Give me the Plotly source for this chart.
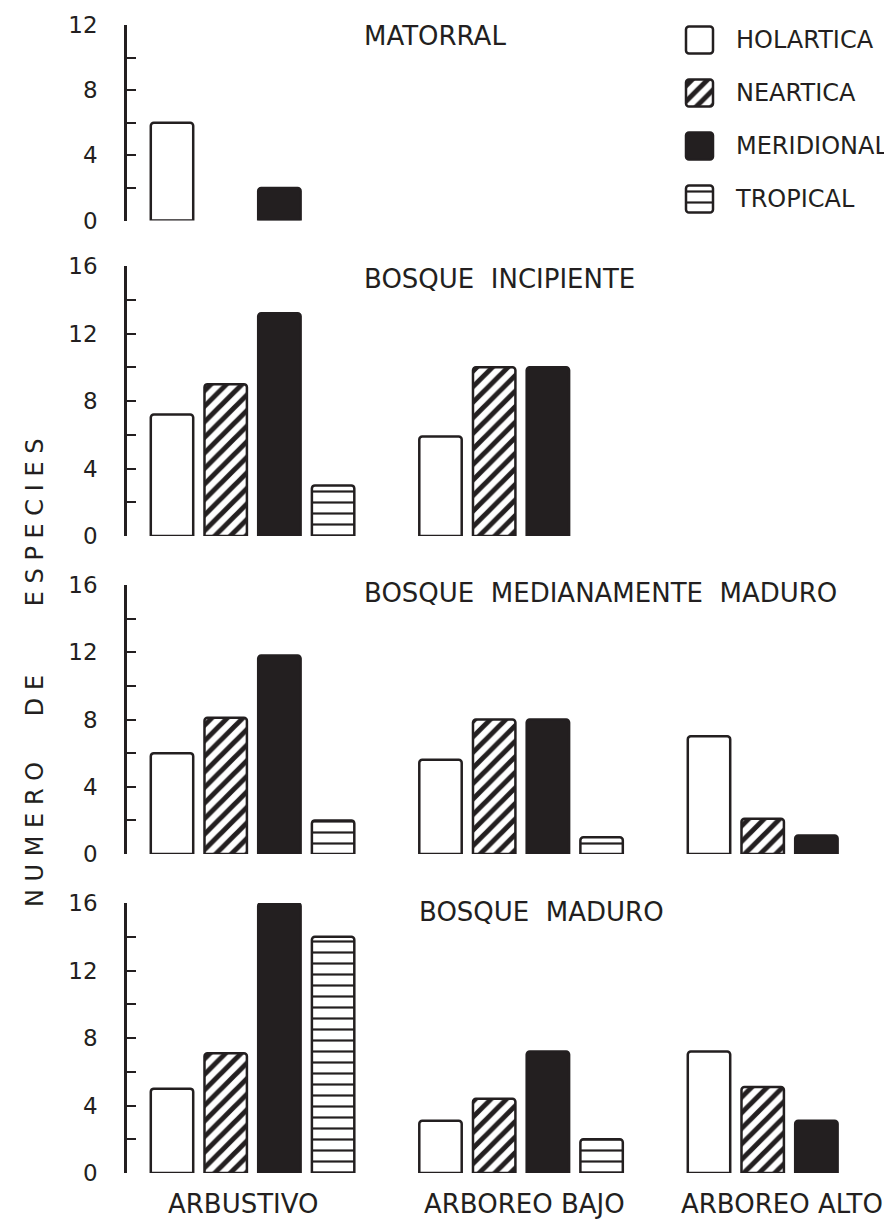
import plotly.graph_objects as go

# ---------------- data ----------------
categories = ["HOLARTICA", "NEARTICA", "MERIDIONAL", "TROPICAL"]
strata = ["ARBUSTIVO", "ARBOREO BAJO", "ARBOREO ALTO"]
panel_titles = ["MATORRAL", "BOSQUE\u00a0\u00a0INCIPIENTE",
                "BOSQUE\u00a0\u00a0MEDIANAMENTE\u00a0\u00a0MADURO", "BOSQUE\u00a0\u00a0MADURO"]

# values per stratum (ARBUSTIVO, ARBOREO BAJO, ARBOREO ALTO); None = no bar
matorral_holartica = [6, None, None]
matorral_neartica = [None, None, None]
matorral_meridional = [2, None, None]
matorral_tropical = [None, None, None]

incipiente_holartica = [7.2, 5.9, None]
incipiente_neartica = [9, 10, None]
incipiente_meridional = [13.2, 10, None]
incipiente_tropical = [3, None, None]

mediano_holartica = [6, 5.6, 7]
mediano_neartica = [8.1, 8, 2.1]
mediano_meridional = [11.8, 8, 1.1]
mediano_tropical = [2, 1, None]

maduro_holartica = [5, 3.1, 7.2]
maduro_neartica = [7.1, 4.4, 5.1]
maduro_meridional = [16, 7.2, 3.1]
maduro_tropical = [14, 2, None]

y_max = [12, 16, 16, 16]

panels = [
    [matorral_holartica, matorral_neartica, matorral_meridional, matorral_tropical],
    [incipiente_holartica, incipiente_neartica, incipiente_meridional, incipiente_tropical],
    [mediano_holartica, mediano_neartica, mediano_meridional, mediano_tropical],
    [maduro_holartica, maduro_neartica, maduro_meridional, maduro_tropical],
]

# ---------------- style ----------------
INK = "#231f20"
VW, VH = 892, 1221          # browser window
OFF = 8                     # default page (body) margin
W, H = VW - OFF, VH - OFF   # figure size so it fills the window
FONT = "DejaVu Sans"
LW = 2.5


def marker_for(ci):
    base = dict(line=dict(color=INK, width=LW), cornerradius=3)
    if ci == 0:
        base.update(color="white")
    elif ci == 1:
        base.update(color="white", pattern=dict(shape="/", fgcolor=INK, bgcolor="white",
                                                 size=11, solidity=0.45, fillmode="replace"))
    elif ci == 2:
        base.update(color=INK)
    else:
        base.update(color="white", pattern=dict(shape="-", fgcolor=INK, bgcolor="white",
                                                 size=11, solidity=0.2, fillmode="replace"))
    return base


def px_x(p):  # window pixel -> paper fraction
    return (p - OFF) / W


def px_y(p):
    return (VH - p) / H


# window-pixel positions (top, bottom) of each panel's value axis
panel_px = [(25, 220.5), (266, 536), (585, 854), (903, 1173)]
x_left_px, x0_px, unit_px = 127, 172, 53.7
x_range = [(x_left_px - x0_px) / unit_px, (VW - x0_px) / unit_px]

fig = go.Figure()

for pi, cat_vals in enumerate(panels):
    ax = "" if pi == 0 else str(pi + 1)
    for ci, vals in enumerate(cat_vals):
        xs, ys = [], []
        for si, v in enumerate(vals):
            if v is not None:
                xs.append(si * 5 + ci)
                ys.append(v)
        if not xs:
            continue
        fig.add_trace(go.Bar(x=xs, y=ys, width=0.79, marker=marker_for(ci),
                             xaxis="x" + ax, yaxis="y" + ax, showlegend=False,
                             name=categories[ci], hoverinfo="skip"))

# legend drawn as small bars on its own axis
for ci, name in enumerate(categories):
    fig.add_trace(go.Bar(x=[1], y=[ci], base=0, orientation="h", width=0.51,
                         marker=marker_for(ci), xaxis="x5", yaxis="y5",
                         showlegend=False, hoverinfo="skip"))

layout = dict(template="none", width=W, height=H, autosize=False,
              margin=dict(l=0, r=0, t=0, b=0, pad=0),
              paper_bgcolor="white", plot_bgcolor="rgba(0,0,0,0)",
              font=dict(family=FONT, color=INK), barmode="overlay")

for pi in range(4):
    ax = "" if pi == 0 else str(pi + 1)
    top, bot = panel_px[pi]
    layout["xaxis" + ax] = dict(domain=[px_x(x_left_px), 1], range=x_range, showgrid=False,
                                zeroline=False, showline=False, ticks="",
                                showticklabels=False, anchor="y" + ax,
                                automargin=False, fixedrange=True)
    layout["yaxis" + ax] = dict(domain=[px_y(bot), px_y(top)], range=[0, y_max[pi]],
                                anchor="x" + ax, showgrid=False, zeroline=False,
                                showline=True, linecolor=INK, linewidth=LW,
                                ticks="inside", ticklen=9, tickwidth=2, tickcolor=INK,
                                tick0=0, dtick=4,
                                minor=dict(dtick=2, tick0=0, ticks="inside", ticklen=9,
                                           tickwidth=2, tickcolor=INK),
                                tickfont=dict(size=23, family=FONT, color=INK),
                                ticklabelstandoff=22, automargin=False, fixedrange=True)

# legend axes
lg_l, lg_r = 684, 715
layout["xaxis5"] = dict(domain=[px_x(lg_l), px_x(lg_r)],
                        range=[(lg_l - 686) / 27, 1 + (lg_r - 713) / 27],
                        visible=False, anchor="y5", automargin=False, fixedrange=True)
lg_t, lg_b, row0, pitch = 10, 229, 40, 53
layout["yaxis5"] = dict(domain=[px_y(lg_b), px_y(lg_t)],
                        range=[(lg_b - row0) / pitch, (lg_t - row0) / pitch],
                        anchor="x5", side="right", showgrid=False, zeroline=False,
                        showline=False, ticks="", tickmode="array",
                        tickvals=[0, 1, 2, 3], ticktext=categories,
                        tickfont=dict(size=24, family=FONT, color=INK),
                        ticklabelstandoff=20, ticklabeloverflow="allow",
                        automargin=False, fixedrange=True)

fig.update_layout(**layout)

# stratum labels under the bottom panel (centred under each group of bars)
strata_px = [243, 524, 782]
for s, xp in zip(strata, strata_px):
    fig.add_annotation(text=s, x=px_x(xp), y=px_y(1204), xref="paper", yref="paper",
                       xanchor="center", yanchor="middle", showarrow=False,
                       font=dict(size=26, family=FONT, color=INK))

# panel titles
title_pos = [(362, 36), (362, 279), (362, 593), (417, 912)]
for t, (xp, yp) in zip(panel_titles, title_pos):
    fig.add_annotation(text=t, x=px_x(xp), y=px_y(yp), xref="paper", yref="paper",
                       xanchor="left", yanchor="middle", showarrow=False,
                       font=dict(size=26, family=FONT, color=INK))

# y axis title (letter-spaced)
ytitle = "\u00a0".join("NUMERO") + "\u00a0" * 6 + "\u00a0".join("DE") + "\u00a0" * 9 + "\u00a0".join("ESPECIES")
fig.add_annotation(text=ytitle, x=px_x(35), y=px_y(673), xref="paper", yref="paper",
                   xanchor="center", yanchor="middle", textangle=-90, showarrow=False,
                   font=dict(size=24, family=FONT, color=INK))

fig.write_html("out.html")
